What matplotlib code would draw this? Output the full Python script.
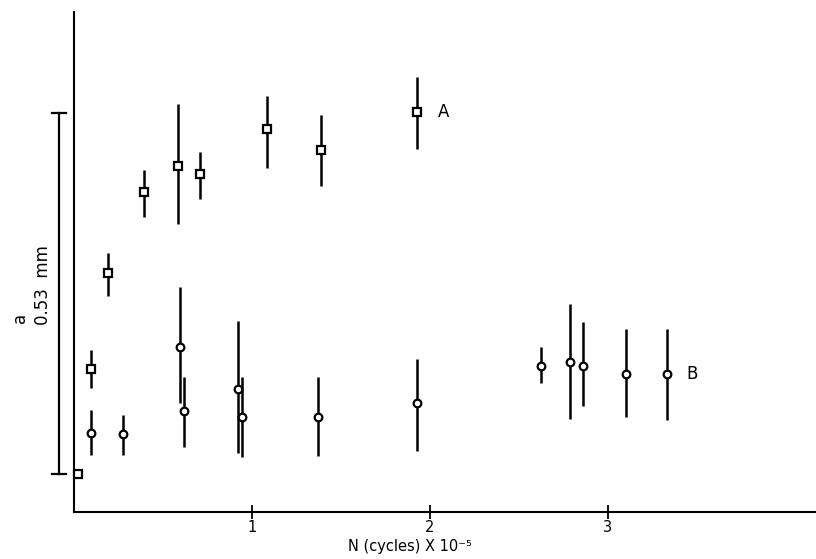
import matplotlib
matplotlib.use("Agg")
import matplotlib.pyplot as plt

# Series A (squares): N in units of 1e5 cycles, a in mm, asymmetric errors
nA = [0.02, 0.096, 0.193, 0.395, 0.586, 0.710, 1.084, 1.388, 1.925]
aA = [0.000, 0.154, 0.295, 0.414, 0.452, 0.440, 0.506, 0.475, 0.531]
aA_lo = [0.0, 0.028, 0.034, 0.037, 0.085, 0.036, 0.057, 0.053, 0.054]
aA_hi = [0.0, 0.028, 0.029, 0.032, 0.091, 0.032, 0.049, 0.052, 0.051]

# Series B (circles)
nB = [0.096, 0.275, 0.596, 0.618, 0.923, 0.944, 1.371, 1.925, 2.627, 2.787, 2.861, 3.101, 3.331]
aB = [0.060, 0.059, 0.186, 0.093, 0.124, 0.084, 0.083, 0.104, 0.159, 0.164, 0.159, 0.147, 0.147]
aB_lo = [0.032, 0.031, 0.082, 0.053, 0.093, 0.059, 0.057, 0.070, 0.025, 0.084, 0.059, 0.063, 0.068]
aB_hi = [0.034, 0.028, 0.089, 0.049, 0.101, 0.058, 0.059, 0.065, 0.027, 0.085, 0.064, 0.066, 0.066]

xticks = [1, 2, 3]
xticklabels = ["1", "2", "3"]
scale_len = 0.53

W, H = 816, 559
fig = plt.figure(figsize=(W / 100, H / 100), dpi=100)
ax = fig.add_axes([74 / W, 1 - 512 / H, (W - 74) / W, 500 / H])

xmax = 4.17
ax.set_xlim(0, xmax)
ax.set_ylim(-0.0558, 0.678)

ek = dict(fmt="none", ecolor="black", elinewidth=1.8, capsize=0, zorder=2)
ax.errorbar(nA, aA, yerr=[aA_lo, aA_hi], **ek)
ax.errorbar(nB, aB, yerr=[aB_lo, aB_hi], **ek)
ax.plot(nA, aA, "s", ms=5.5, mfc="white", mec="black", mew=1.6, zorder=3, clip_on=False)
ax.plot(nB, aB, "o", ms=5.5, mfc="white", mec="black", mew=1.6, zorder=3)

ax.text(nA[-1] + 0.12, aA[-1], "A", fontsize=12, va="center", ha="left")
ax.text(nB[-1] + 0.11, aB[-1], "B", fontsize=12, va="center", ha="left")

# scale bar
xb = -15 / 178
cw = 7 / 178
ax.plot([xb, xb], [0, scale_len], color="black", lw=1.6, clip_on=False)
for yy in (0, scale_len):
    ax.plot([xb - cw, xb + cw], [yy, yy], color="black", lw=1.6, clip_on=False)

fig.text(20 / W, 1 - 318 / H, "a", rotation=90, fontsize=12, ha="center", va="center")
fig.text(43 / W, 1 - 285 / H, "0.53  mm", rotation=90, fontsize=12, ha="center", va="center")

for s in ("top", "right"):
    ax.spines[s].set_visible(False)
for s in ("left", "bottom"):
    ax.spines[s].set_linewidth(1.5)
ax.set_yticks([])
ax.set_xticks(xticks)
ax.set_xticklabels(xticklabels, fontsize=10.5)
ax.tick_params(axis="x", direction="inout", length=10, width=1.3, pad=1)
ax.set_xlabel("N (cycles) X 10\u207b\u2075", fontsize=10.5)
ax.xaxis.set_label_coords((410 - 74) / (W - 74), -0.053)

fig.savefig("out.png", dpi=100)
